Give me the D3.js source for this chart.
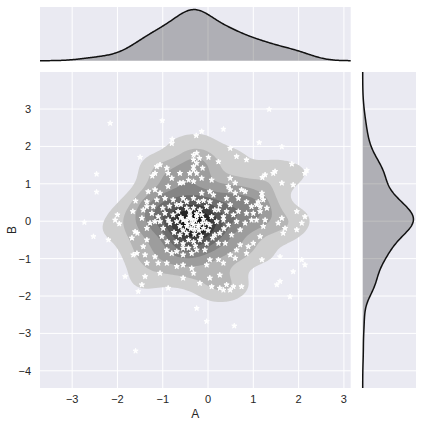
<!DOCTYPE html>
<html>
<head>
<meta charset="utf-8">
<script src="https://cdn.jsdelivr.net/npm/d3@7"></script>
<style>
	body { margin: 0; background: #fff; }
	svg { display: block; }
	text { font-family: "Liberation Sans", Arial, sans-serif; fill: #262626; }
</style>
</head>
<body>
<svg id="chart" width="423" height="425"></svg>
<script>
"use strict";

// DATA (A, B)
const starPoints = [
	[-2.16, 2.62], [-1.01, 2.69], [-0.79, 2.19], [-0.80, 2.08], [-0.26, 2.29], [-1.50, 1.71],
	[-2.46, 1.26], [-2.46, 0.78], [-2.73, -0.03], [-2.53, -0.41], [-2.00, 0.17], [-2.05, 0.03],
	[-1.96, -0.07], [-1.60, 0.54], [-1.66, 0.26], [-1.61, -0.28], [-1.56, -0.32], [-1.23, 1.21],
	[-0.25, 1.82], [-0.32, 1.64], [-0.32, 1.37], [-0.25, 1.28], [-0.62, 1.02], [-0.43, 1.10],
	[-1.17, 0.84], [-1.13, 0.57], [-0.47, 0.52], [-1.35, 0.39],
	[-0.32, 1.77], [-0.19, 1.68], [0.01, 1.71], [0.23, 1.59], [-0.25, 1.55], [-0.32, 1.46],
	[-0.12, 1.42], [-0.40, 1.28], [-0.14, 1.15], [0.08, 1.10], [-0.32, 1.06], [-0.55, 1.03],
	[-1.13, 1.46], [-1.06, 1.51], [-0.91, 1.42], [-1.17, 1.28], [-0.88, 1.28], [-0.80, 1.15],
	[-0.62, 1.28], [-0.88, 0.93], [-1.06, 0.75], [-1.32, 0.79], [-1.35, 0.52], [-1.21, 0.39],
	[-0.95, 0.61], [-0.77, 0.57], [-0.69, 0.44], [-0.55, 0.61], [-0.32, 0.61], [-0.21, 0.52],
	[-0.14, 0.75], [0.04, 0.79], [0.12, 0.70], [0.04, 0.52], [0.26, 0.44], [0.23, 0.30],
	[0.34, 0.12], [0.41, 0.26], [-0.03, 0.39], [-0.18, 0.30], [-0.32, 0.35], [-0.40, 0.26],
	[-0.47, 0.35], [-0.66, 0.26], [-0.77, 0.17], [-0.95, 0.21], [-1.10, 0.12], [-1.24, 0.21],
	[-1.43, 0.30], [-1.46, 0.08], [-1.28, -0.05], [-1.06, -0.01], [-0.88, 0.03], [-0.69, -0.01],
	[-0.55, 0.03], [-0.43, 0.08], [-0.25, 0.12], [-0.14, 0.17], [0.08, 0.12], [0.19, -0.01],
	[-0.03, -0.05], [-0.32, -0.10], [-0.47, -0.14], [-0.62, -0.14], [-0.99, -0.19], [-1.35, -0.19],
	[-0.62, -0.37], [-0.47, -0.32], [0.15, -0.37], [0.26, -0.32], [0.23, -0.59], [-0.03, -0.59],
	[-0.18, -0.50], [-0.32, -0.55], [-0.43, -0.50], [-0.07, -0.77], [-0.25, -0.77], [-0.36, -0.86],
	[-0.55, -0.90], [-0.69, -0.81], [-0.80, -0.86], [-0.91, -0.77], [-1.02, -0.41], [-1.35, -0.50],
	[-1.43, -0.68], [-1.39, -0.90], [-1.17, -0.95], [-1.35, -1.12], [-1.10, -1.12], [-0.91, -1.12],
	[-0.69, -1.21], [-0.55, -1.17], [-0.36, -1.26], [-0.32, -1.39], [-0.55, -1.52], [-0.03, -1.17],
	[0.04, -1.03], [0.23, -1.03], [0.34, -1.12], [0.26, -1.44], [0.04, -1.52], [-0.18, -1.66],
	[0.08, -1.75], [0.26, -1.79], [0.41, -1.70], [-1.06, -1.39], [-1.39, -1.48], [-0.88, -1.79],
	[-0.25, -2.33], [-1.17, -0.01], [-0.84, -0.05], [-0.21, -0.10], [-0.10, -0.19], [0.04, -0.10],
	[1.13, 2.10], [1.63, 1.99], [0.63, 1.73], [0.85, 1.64], [1.85, 1.53], [1.26, 1.24],
	[1.44, 1.28], [1.63, 1.02], [1.88, 0.97], [2.14, 1.28], [0.49, 1.15], [0.60, 1.02],
	[0.49, 0.84], [0.41, 0.61], [0.60, 0.75], [0.74, 0.84], [0.82, 0.79], [0.67, 0.61],
	[0.49, 0.44], [0.85, 0.52], [0.96, 0.39], [1.07, 0.44], [1.19, 0.75], [1.22, 0.57],
	[1.15, 0.26], [1.30, 0.35], [1.00, 0.21], [0.85, 0.21], [0.67, 0.26], [0.56, 0.17],
	[0.34, 0.03], [0.63, -0.01], [0.82, -0.05], [0.96, 0.03], [1.07, 0.03], [1.26, 0.03],
	[1.55, -0.05], [1.63, 0.08], [1.70, -0.19], [1.96, 0.26], [2.14, 0.12], [2.07, -0.05],
	[1.35, 2.99], [0.34, 2.46], [-0.14, 2.40], [0.49, 1.95], [2.18, 1.36], [1.48, 1.33],
	[1.20, 1.17], [0.45, 0.93], [1.19, 0.66], [1.11, 0.52], [1.15, 0.39], [1.66, -0.32],
	[1.96, -0.23], [1.22, -0.14], [1.15, -0.41], [1.00, -0.59], [0.89, -0.68], [0.71, -0.63],
	[0.63, -0.77], [0.49, -0.90], [0.60, -0.99], [0.85, -0.86], [1.19, -1.03], [1.59, -0.95],
	[2.07, -1.03], [2.14, -1.17], [1.88, -1.35], [1.59, -1.61], [1.52, -1.70], [1.81, -2.02],
	[0.56, -1.75], [0.49, -1.84], [0.34, -1.84], [0.74, -1.75], [0.52, -0.37], [0.71, -0.23],
	[0.38, -0.59], [-0.03, -2.68], [0.58, -2.80],
	[-2.20, -0.50], [-1.65, -0.90], [-1.57, -0.86], [-1.68, -0.45], [-1.83, -1.48], [-1.46, -1.70],
	[-1.54, -1.88], [-1.60, -3.47], [-0.55, -0.72], [-0.43, -0.72], [-0.28, -0.66],
	[-0.35, -0.05], [-0.28, 0.02], [-0.45, -0.08], [-0.20, -0.25], [-0.55, -0.25], [-0.10, 0.05],
	[-0.30, -0.35], [-0.60, 0.10], [0.00, -0.25], [-0.15, -0.40], [-0.40, 0.15], [-0.25, 0.20],
	[-0.38, -0.20], [-0.30, -0.22], [-0.22, -0.15], [-0.12, -0.05], [-0.36, 0.05], [-0.48, 0.00],
	[-0.75, -0.30], [-0.90, -0.55], [-0.70, -0.55], [0.10, -0.45], [0.35, -0.20], [0.15, 0.30],
	[-0.60, 0.45], [-0.85, 0.40], [-1.00, 0.35], [0.45, -0.10], [-0.10, 0.55], [-0.55, -0.60]
];
const xTicks = [-3, -2, -1, 0, 1, 2, 3];
const yTicks = [-4, -3, -2, -1, 0, 1, 2, 3];
const xName = "A";
const yName = "B";

// LAYOUT
const xDomain = [-3.71, 3.15];
const yDomain = [-4.46, 3.99];
const main = { left: 40, right: 350.7, top: 72, bottom: 388 };
const margTop = { top: 7, bottom: 60.7 };
const margRight = { left: 362.7, right: 416 };
const bg = "#eaeaf2";

const svg = d3.select("#chart");
const x = d3.scaleLinear().domain(xDomain).range([main.left, main.right]);
const y = d3.scaleLinear().domain(yDomain).range([main.bottom, main.top]);
const fmt = (v) => (v < 0 ? "\u2212" + Math.abs(v) : String(v));

const as = starPoints.map((d) => d[0]);
const bs = starPoints.map((d) => d[1]);
const n = starPoints.length;

// scott rule as statsmodels does it
function scottBw(v) {
	const sorted = v.slice().sort(d3.ascending);
	const iqr = d3.quantileSorted(sorted, 0.75) - d3.quantileSorted(sorted, 0.25);
	return 1.059 * Math.min(d3.deviation(v), iqr / 1.349) * Math.pow(v.length, -0.2);
}
const hA = scottBw(as);
const hB = scottBw(bs);

// ---- main panel
svg.append("defs").append("clipPath").attr("id", "mainClip")
	.append("rect")
	.attr("x", main.left).attr("y", main.top)
	.attr("width", main.right - main.left).attr("height", main.bottom - main.top);

svg.append("rect")
	.attr("x", main.left).attr("y", main.top)
	.attr("width", main.right - main.left).attr("height", main.bottom - main.top)
	.attr("fill", bg);

const gridG = svg.append("g").attr("stroke", "#fff").attr("stroke-width", 1);
gridG.selectAll(".gx").data(xTicks).join("line")
	.attr("x1", (d) => x(d)).attr("x2", (d) => x(d))
	.attr("y1", main.top).attr("y2", main.bottom);
gridG.selectAll(".gy").data(yTicks).join("line")
	.attr("y1", (d) => y(d)).attr("y2", (d) => y(d))
	.attr("x1", main.left).attr("x2", main.right);

// bivariate product-kernel kde
const kNorm = 1 / (2 * Math.PI * hA * hB * n);
const gw = 130, gh = 130;
const grid = new Float64Array(gw * gh);
for (let j = 0; j < gh; j++) {
	const bv = yDomain[1] - (j + 0.5) / gh * (yDomain[1] - yDomain[0]);
	for (let i = 0; i < gw; i++) {
		const av = xDomain[0] + (i + 0.5) / gw * (xDomain[1] - xDomain[0]);
		let s = 0;
		for (const p of starPoints) {
			const da = (av - p[0]) / hA, db = (bv - p[1]) / hB;
			s += Math.exp(-0.5 * (da * da + db * db));
		}
		grid[i + j * gw] = s * kNorm;
	}
}

// level step picked like matplotlib's MaxNLocator(11)
const maxD = d3.max(grid);
const raw = maxD / 11;
const scale = Math.pow(10, Math.floor(Math.log10(raw)));
const step = [1, 2, 2.5, 5, 10].map((s) => s * scale).find((s) => s >= raw);
const nLev = Math.ceil(maxD / step);
const levels = d3.range(1, nLev).map((k) => k * step);
const cmap = d3.interpolateRgb("#f2f2f2", "#000000");

const gridProj = d3.geoTransform({
	point: function (px, py) {
		this.stream.point(
			main.left + (px / gw) * (main.right - main.left),
			main.top + (py / gh) * (main.bottom - main.top)
		);
	},
});
const contourPath = d3.geoPath(gridProj);
const bands = d3.contours().size([gw, gh]).thresholds(levels)(grid);

svg.append("g").attr("clip-path", "url(#mainClip)")
	.selectAll("path").data(bands).join("path")
	.attr("d", contourPath)
	.attr("fill", (d, k) => cmap((k + 1.5) / nLev))
	.attr("stroke", "none");

// stars
const star = d3.symbol().type(d3.symbolStar).size(8.5);
svg.append("g").attr("clip-path", "url(#mainClip)")
	.selectAll("path").data(starPoints).join("path")
	.attr("transform", (d) => `translate(${x(d[0])},${y(d[1])})`)
	.attr("d", star)
	.attr("fill", "#fff").attr("stroke", "#fff").attr("stroke-width", 1);

// tick labels
svg.append("g").selectAll("text").data(xTicks).join("text")
	.attr("x", (d) => x(d)).attr("y", 403)
	.attr("text-anchor", "middle").attr("font-size", 11)
	.text(fmt);
svg.append("g").selectAll("text").data(yTicks).join("text")
	.attr("x", 31).attr("y", (d) => y(d) + 4)
	.attr("text-anchor", "end").attr("font-size", 11)
	.text(fmt);
svg.append("text")
	.attr("x", (main.left + main.right) / 2).attr("y", 418)
	.attr("text-anchor", "middle").attr("font-size", 12)
	.text(xName);
svg.append("text")
	.attr("transform", `translate(15.5,${(main.top + main.bottom) / 2}) rotate(-90)`)
	.attr("text-anchor", "middle").attr("font-size", 12)
	.text(yName);

// ---- marginal kdes
function kde1d(vals, h, lo, hi, count) {
	const c = 1 / (Math.sqrt(2 * Math.PI) * h * vals.length);
	return d3.range(count + 1).map((k) => {
		const t = lo + (k / count) * (hi - lo);
		let s = 0;
		for (const v of vals) s += Math.exp(-0.5 * ((t - v) / h) ** 2);
		return [t, s * c];
	});
}

const densA = kde1d(as, hA, xDomain[0], xDomain[1], 300);
const densB = kde1d(bs, hB, yDomain[0], yDomain[1], 300);

// top
svg.append("rect")
	.attr("x", main.left).attr("y", margTop.top)
	.attr("width", main.right - main.left).attr("height", margTop.bottom - margTop.top)
	.attr("fill", bg);
svg.append("g").attr("stroke", "#fff").attr("stroke-width", 1)
	.selectAll("line").data(xTicks).join("line")
	.attr("x1", (d) => x(d)).attr("x2", (d) => x(d))
	.attr("y1", margTop.top).attr("y2", margTop.bottom);
const yTop = d3.scaleLinear()
	.domain([0, d3.max(densA, (d) => d[1]) * 1.05])
	.range([margTop.bottom, margTop.top]);
svg.append("path").datum(densA)
	.attr("d", d3.area().x((d) => x(d[0])).y0(yTop(0)).y1((d) => yTop(d[1])))
	.attr("fill", "#000").attr("fill-opacity", 0.25);
svg.append("path").datum(densA)
	.attr("d", d3.line().x((d) => x(d[0])).y((d) => yTop(d[1])))
	.attr("fill", "none").attr("stroke", "#111").attr("stroke-width", 1.5);

// right
svg.append("rect")
	.attr("x", margRight.left).attr("y", main.top)
	.attr("width", margRight.right - margRight.left).attr("height", main.bottom - main.top)
	.attr("fill", bg);
svg.append("g").attr("stroke", "#fff").attr("stroke-width", 1)
	.selectAll("line").data(yTicks).join("line")
	.attr("y1", (d) => y(d)).attr("y2", (d) => y(d))
	.attr("x1", margRight.left).attr("x2", margRight.right);
const xRight = d3.scaleLinear()
	.domain([0, d3.max(densB, (d) => d[1]) * 1.05])
	.range([margRight.left, margRight.right]);
svg.append("path").datum(densB)
	.attr("d", d3.area().y((d) => y(d[0])).x0(xRight(0)).x1((d) => xRight(d[1])))
	.attr("fill", "#000").attr("fill-opacity", 0.25);
svg.append("path").datum(densB)
	.attr("d", d3.line().y((d) => y(d[0])).x((d) => xRight(d[1])))
	.attr("fill", "none").attr("stroke", "#111").attr("stroke-width", 1.5);
</script>
</body>
</html>
